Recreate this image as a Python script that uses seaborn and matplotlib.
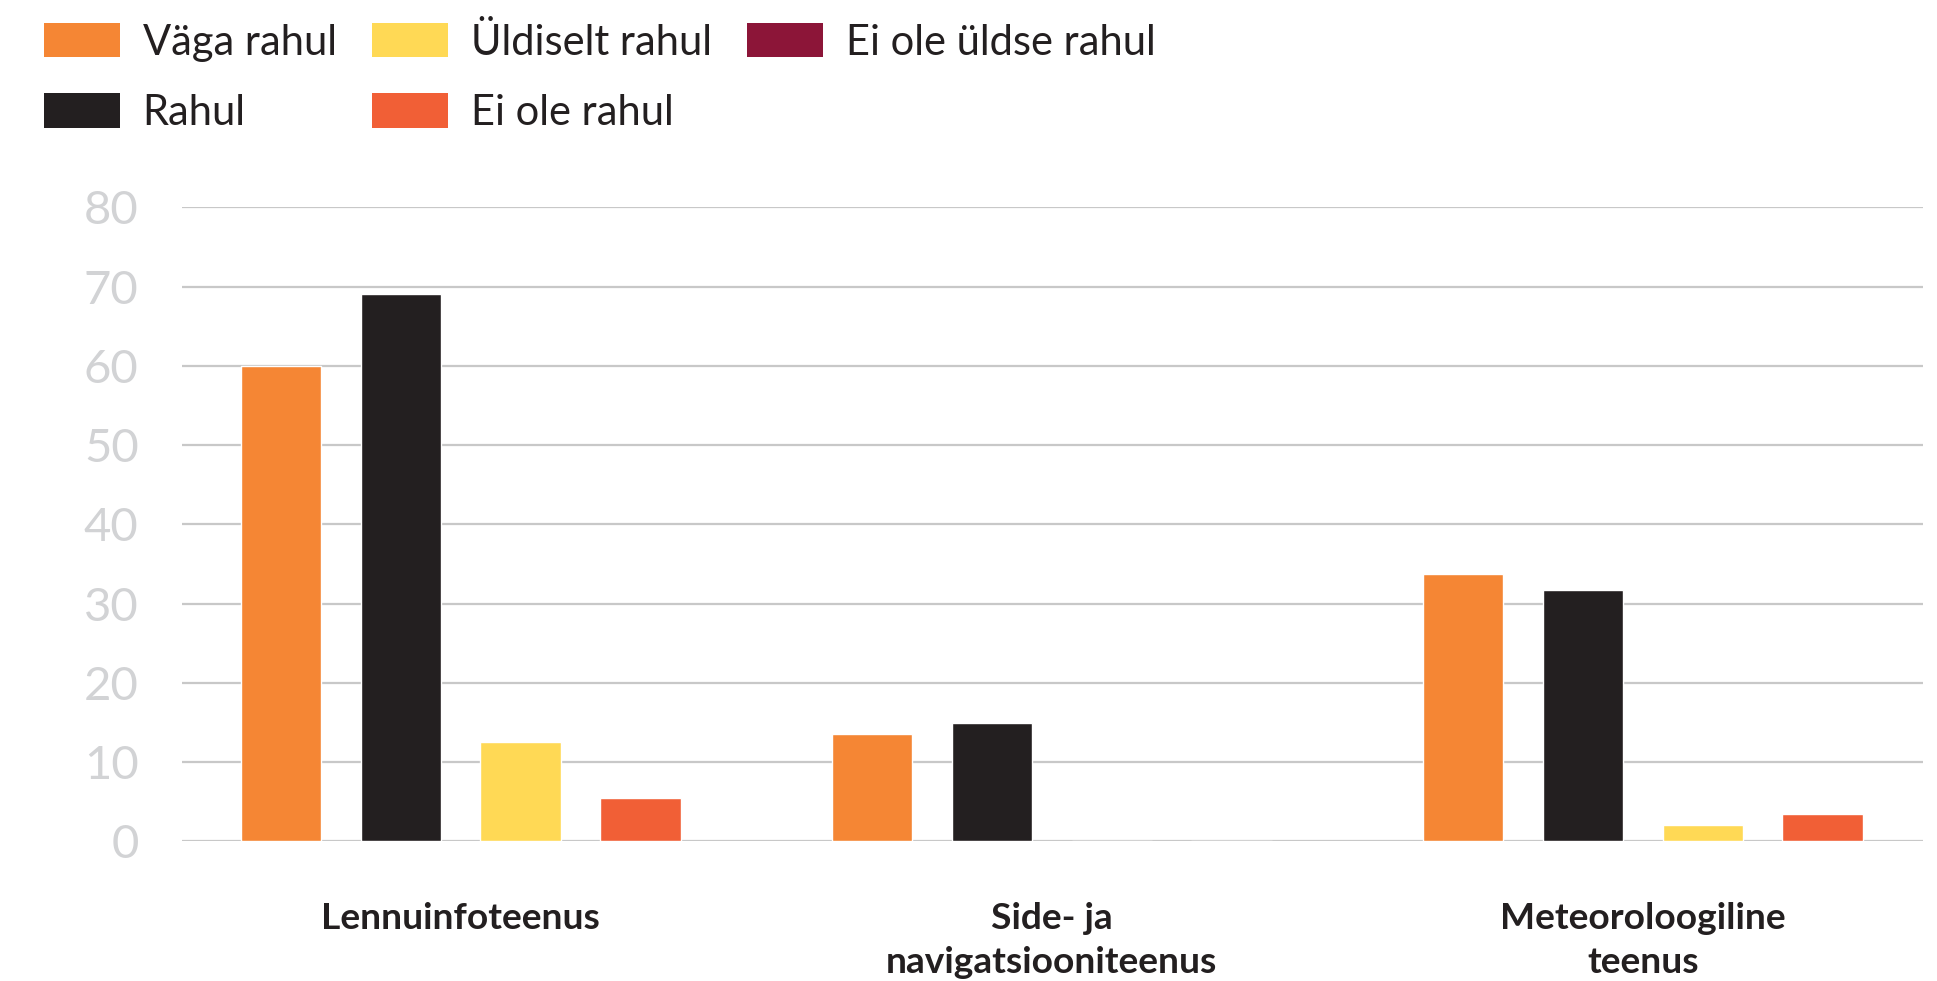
import numpy as np
import pandas as pd
import matplotlib.pyplot as plt
import seaborn as sns
from matplotlib.patches import Patch

sns.set_theme(style="white")
plt.rcParams['font.family'] = ['Lato', 'DejaVu Sans']

# data
categories = ['Lennuinfoteenus', 'Side- ja\nnavigatsiooniteenus', 'Meteoroloogiline\nteenus']
series = ['Väga rahul', 'Rahul', 'Üldiselt rahul', 'Ei ole rahul', 'Ei ole üldse rahul']
vaga_rahul = [60.0, 13.5, 33.7]
rahul = [69.1, 14.9, 31.7]
uldiselt_rahul = [12.5, 0.0, 2.0]
ei_ole_rahul = [5.4, 0.0, 3.4]
ei_ole_uldse_rahul = [0.0, 0.0, 0.0]
colors = ['#F58634', '#231F20', '#FFD955', '#F15F36', '#8C1538']
y_ticks = [0, 10, 20, 30, 40, 50, 60, 70, 80]

values = [vaga_rahul, rahul, uldiselt_rahul, ei_ole_rahul, ei_ole_uldse_rahul]
palette = dict(zip(series, colors))

rows = []
for s, vals in zip(series, values):
    for c, v in zip(categories, vals):
        rows.append({'teenus': c, 'hinnang': s, 'protsent': v})
df = pd.DataFrame(rows)

# series with no answers at all get no slot in the groups, only a legend entry
drawn = [s for s, vals in zip(series, values) if any(v > 0 for v in vals)]

fig = plt.figure(figsize=(19.37, 9.81), dpi=100)
ax = fig.add_axes([0.0938, 0.1425, 0.899, 0.646])

sns.barplot(data=df[df['hinnang'].isin(drawn)], x='teenus', y='protsent',
            hue='hinnang', hue_order=drawn, order=categories, palette=palette,
            width=0.811, gap=0.33, saturation=1, errorbar=None, ax=ax,
            legend=False, zorder=3)

ax.set_ylim(0, 80)
ax.set_xlim(-0.472, 2.474)
ax.set_yticks(y_ticks)
ax.yaxis.grid(True, color='#c8c8c8', linewidth=1.6, zorder=0)
ax.set_axisbelow(True)
for sp in ax.spines.values():
    sp.set_visible(False)
ax.set_xlabel('')
ax.set_ylabel('')
ax.tick_params(axis='y', length=0, pad=31, labelsize=34, labelcolor='#d2d3d5')
ax.tick_params(axis='x', length=0, pad=44, labelsize=26.7, labelcolor='#231F20')
for lbl in ax.get_xticklabels():
    lbl.set_fontweight('bold')
    lbl.set_linespacing(1.38)

handles = [Patch(facecolor=palette[s], edgecolor='none') for s in series]
fig.legend(handles, series, loc='upper left', bbox_to_anchor=(0.0227, 0.977),
           ncol=3, frameon=False, fontsize=30, handlelength=1.82, handleheight=0.89,
           handletextpad=0.55, columnspacing=0.85, labelspacing=0.76,
           borderpad=0, borderaxespad=0, labelcolor='#231F20')

fig.savefig('out.png', dpi=100)
